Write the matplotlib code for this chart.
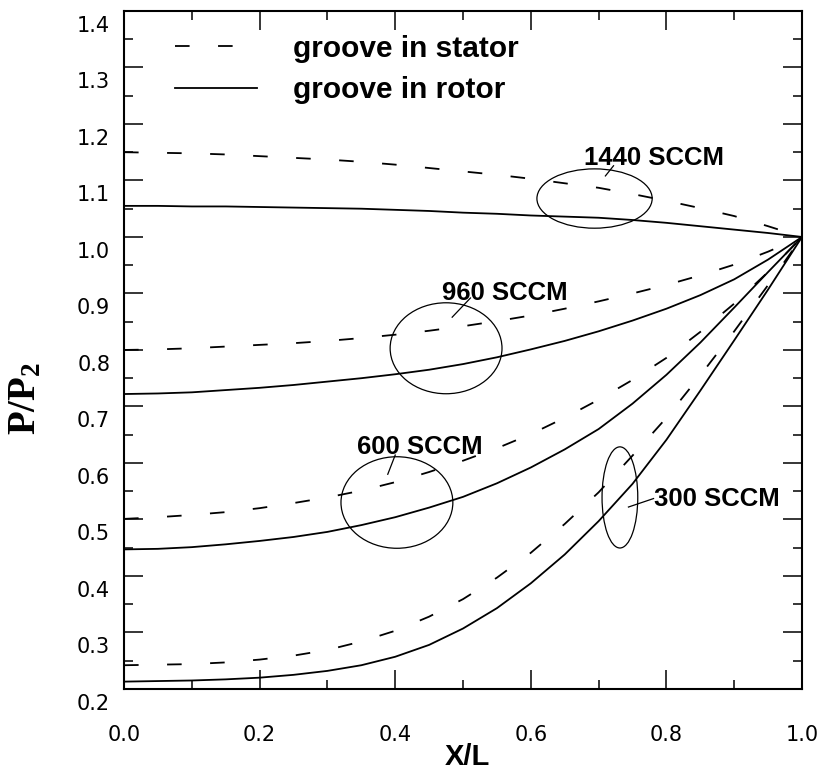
import numpy as np
import matplotlib
matplotlib.use('Agg')
import matplotlib.pyplot as plt
from matplotlib.patches import Ellipse
from matplotlib import transforms

# X/L positions
xl = [0.0, 0.05, 0.1, 0.15, 0.2, 0.25, 0.3, 0.35, 0.4, 0.45, 0.5,
      0.55, 0.6, 0.65, 0.7, 0.75, 0.8, 0.85, 0.9, 0.95, 1.0]

# groove in stator (dashed)
stator_1440 = [1.150, 1.149, 1.148, 1.146, 1.143, 1.140, 1.137, 1.133, 1.128, 1.122, 1.116,
               1.110, 1.103, 1.095, 1.087, 1.076, 1.064, 1.051, 1.037, 1.019, 1.0]
stator_960 = [0.800, 0.801, 0.803, 0.806, 0.809, 0.812, 0.816, 0.821, 0.827, 0.834, 0.842,
              0.851, 0.861, 0.873, 0.886, 0.900, 0.915, 0.932, 0.951, 0.974, 1.0]
stator_600 = [0.501, 0.504, 0.508, 0.513, 0.520, 0.529, 0.539, 0.551, 0.566, 0.584, 0.604,
              0.626, 0.651, 0.680, 0.712, 0.747, 0.786, 0.832, 0.882, 0.938, 1.0]
stator_300 = [0.242, 0.243, 0.244, 0.247, 0.252, 0.259, 0.269, 0.284, 0.303, 0.328, 0.359,
              0.397, 0.441, 0.492, 0.548, 0.613, 0.680, 0.755, 0.833, 0.915, 1.0]

# groove in rotor (solid)
rotor_1440 = [1.055, 1.055, 1.054, 1.054, 1.053, 1.052, 1.051, 1.050, 1.048, 1.046, 1.043,
              1.041, 1.038, 1.036, 1.034, 1.030, 1.025, 1.019, 1.013, 1.007, 1.0]
rotor_960 = [0.722, 0.723, 0.725, 0.729, 0.733, 0.738, 0.744, 0.750, 0.757, 0.765, 0.775,
             0.787, 0.801, 0.816, 0.833, 0.852, 0.873, 0.897, 0.925, 0.960, 1.0]
rotor_600 = [0.447, 0.448, 0.451, 0.456, 0.462, 0.469, 0.478, 0.490, 0.504, 0.521, 0.540,
             0.564, 0.592, 0.624, 0.660, 0.705, 0.756, 0.813, 0.875, 0.938, 1.0]
rotor_300 = [0.213, 0.214, 0.215, 0.217, 0.220, 0.225, 0.232, 0.242, 0.257, 0.278, 0.307,
             0.343, 0.387, 0.438, 0.497, 0.563, 0.641, 0.728, 0.817, 0.907, 1.0]

flow_labels = ["1440 SCCM", "960 SCCM", "600 SCCM", "300 SCCM"]

plt.rcParams['lines.scale_dashes'] = False
plt.rcParams['mathtext.fontset'] = 'custom'
plt.rcParams['mathtext.bf'] = 'Liberation Serif:bold'
plt.rcParams['mathtext.rm'] = 'Liberation Serif'

fig = plt.figure(figsize=(8.23, 7.71), dpi=100)
ax = fig.add_axes([0.1507, 0.1064, 0.8238, 0.8794])

dash = (0, (10.5, 20.5))
lw = 1.3
for s in [stator_1440, stator_960, stator_600, stator_300]:
    ls_handle, = ax.plot(xl, s, color='k', lw=lw, linestyle=dash)
for r in [rotor_1440, rotor_960, rotor_600, rotor_300]:
    lr_handle, = ax.plot(xl, r, color='k', lw=lw)

# ellipses, leader lines and labels: (center, w, h, leader, text pos)
notes = [
    ((0.694, 1.068), 0.170, 0.105, ([0.710, 0.722], [1.108, 1.126]), (0.782, 1.140)),
    ((0.475, 0.803), 0.165, 0.161, ([0.484, 0.511], [0.858, 0.892]), (0.562, 0.900)),
    ((0.4025, 0.530), 0.165, 0.162, ([0.389, 0.400], [0.580, 0.614]), (0.437, 0.629)),
    ((0.7314, 0.539), 0.0527, 0.179, ([0.744, 0.781], [0.522, 0.537]), (0.874, 0.536)),
]
for (c, w, h, lead, tp), lab in zip(notes, flow_labels):
    ax.add_patch(Ellipse(c, w, h, fill=False, lw=0.9, color='k'))
    ax.plot(lead[0], lead[1], color='k', lw=0.9)
    ax.text(tp[0], tp[1], lab, ha='center', va='center', fontsize=18.5,
            fontweight='bold', family='Liberation Sans')

ax.legend([ls_handle, lr_handle], ["groove in stator", "groove in rotor"],
          loc='upper left', bbox_to_anchor=(0.075, 0.965), frameon=False,
          borderpad=0, borderaxespad=0, handlelength=2.75, handletextpad=1.2,
          labelspacing=0.45,
          prop={'family': 'Liberation Sans', 'weight': 'bold', 'size': 21.5})

ax.set_xlim(0, 1.0)
ax.set_ylim(0.2, 1.4)
ax.set_xticks(np.arange(0, 1.01, 0.2))
ax.set_xticks(np.arange(0.1, 1.0, 0.2), minor=True)
ax.set_yticks(np.arange(0.2, 1.401, 0.1))
ax.set_yticks(np.arange(0.25, 1.4, 0.1), minor=True)
ax.set_xticklabels([f"{v:.1f}" for v in np.arange(0, 1.01, 0.2)])
ax.set_yticklabels([f"{v:.1f}" for v in np.arange(0.2, 1.401, 0.1)])

ax.tick_params(which='both', direction='in', top=True, right=True, width=1.1)
ax.tick_params(which='major', length=13.5)
ax.tick_params(which='minor', length=6.5)
ax.tick_params(axis='x', which='major', pad=26, labelsize=15)
ax.tick_params(axis='y', which='major', pad=10, labelsize=15)
for sp in ax.spines.values():
    sp.set_linewidth(1.5)

offset = transforms.ScaledTranslation(0, -0.13, fig.dpi_scale_trans)
for lab in ax.get_yticklabels():
    lab.set_transform(lab.get_transform() + offset)

fig.text(467 / 823, 1 - 757 / 771, "X/L", ha='center', va='center',
         fontsize=21, fontweight='bold', family='Liberation Sans')
fig.text(24 / 823, 1 - 398 / 771, r'$\mathbf{P/P_2}$', ha='center', va='center',
         rotation=90, fontsize=28)

fig.savefig('out.png', dpi=100)
